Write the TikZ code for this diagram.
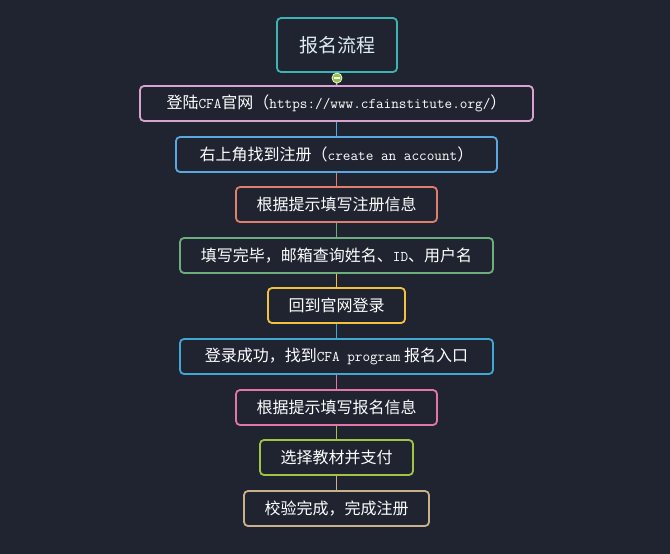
\documentclass[tikz,border=0pt]{standalone}
\usepackage{fontspec}
\setmainfont{Noto Sans CJK SC}
\newcommand{\mn}[1]{{\ttfamily\fontsize{14.8}{18}\selectfont #1}}
\definecolor{bgc}{HTML}{1F2430}
\definecolor{cTeal}{HTML}{3DB3B3}
\definecolor{cLav}{HTML}{D9A2D2}
\definecolor{cBlue}{HTML}{5AA8E2}
\definecolor{cSalmon}{HTML}{E0806C}
\definecolor{cGreen}{HTML}{6DAF7C}
\definecolor{cYellow}{HTML}{F2C23E}
\definecolor{cCyan}{HTML}{3FA9D3}
\definecolor{cPink}{HTML}{E276A6}
\definecolor{cLime}{HTML}{A2C443}
\definecolor{cTan}{HTML}{C9B18C}
\definecolor{cMinus}{HTML}{8DC63F}
\definecolor{cTitle}{HTML}{DEECF6}
\begin{document}
\begin{tikzpicture}[x=1pt,y=-1pt,
  stepbox/.style={draw=#1, line width=1.8pt, rounded corners=4pt, fill=bgc,
    text=white, font=\fontsize{16}{19}\selectfont, inner sep=0pt,
    minimum height=35pt, anchor=center},
  link/.style={draw=#1, line width=1.5pt}]
\fill[bgc] (0,0) rectangle (670,554);
\useasboundingbox (0,0) rectangle (670,554);
\node[stepbox=cTeal, minimum width=120pt, minimum height=54pt, text=cTitle, font=\fontsize{19}{22}\selectfont] (t) at (337,45) {报名流程};
\node[stepbox=cLav, minimum width=393pt] (b1) at (336.5,103.5) {登陆\mn{CFA}官网（\mn{https://www.cfainstitute.org/}）};
\node[stepbox=cBlue, minimum width=321pt] (b2) at (336.5,154.5) {右上角找到注册（\mn{create an account}）};
\node[stepbox=cSalmon, minimum width=201pt] (b3) at (336.5,204.5) {根据提示填写注册信息};
\node[stepbox=cGreen, minimum width=313pt] (b4) at (336.5,255.5) {填写完毕，邮箱查询姓名、\mn{ID}、用户名};
\node[stepbox=cYellow, minimum width=137pt] (b5) at (336.5,305.5) {回到官网登录};
\node[stepbox=cCyan, minimum width=313pt] (b6) at (336.5,356.5) {登录成功，找到\mn{CFA program} 报名入口};
\node[stepbox=cPink, minimum width=201pt] (b7) at (336.5,407.5) {根据提示填写报名信息};
\node[stepbox=cLime, minimum width=153pt] (b8) at (336.5,457.5) {选择教材并支付};
\node[stepbox=cTan, minimum width=185pt] (b9) at (336.5,508.5) {校验完成，完成注册};
\draw[link=cLav] (t.south) -- (b1.north);
\draw[link=cBlue] (b1.south) -- (b2.north);
\draw[link=cSalmon] (b2.south) -- (b3.north);
\draw[link=cGreen] (b3.south) -- (b4.north);
\draw[link=cYellow] (b4.south) -- (b5.north);
\draw[link=cCyan] (b5.south) -- (b6.north);
\draw[link=cPink] (b6.south) -- (b7.north);
\draw[link=cLime] (b7.south) -- (b8.north);
\draw[link=cTan] (b8.south) -- (b9.north);
\node[circle, fill=cMinus, draw=white!85!cMinus, line width=0.8pt, minimum size=10pt, inner sep=0pt] (mn) at (337,78) {};
\draw[white, line width=1.4pt] ([xshift=-3pt]mn.center) -- ([xshift=3pt]mn.center);
\end{tikzpicture}
\end{document}
